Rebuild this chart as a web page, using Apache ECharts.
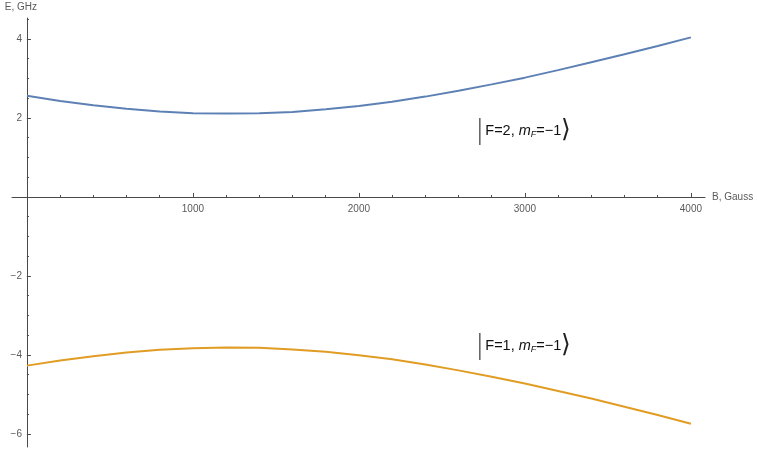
<!DOCTYPE html>
<html>
<head>
<meta charset="utf-8">
<script src="https://cdn.jsdelivr.net/npm/echarts@6/dist/echarts.min.js"></script>
<style>html,body{margin:0;padding:0;background:#fff}#c{width:757px;height:452px}</style>
</head>
<body>
<div id="c"></div>
<script>
// Magnetic field (Gauss)
const fieldB = [0,200,400,600,800,1000,1200,1400,1600,1800,2000,2200,2400,2600,2800,3000,3200,3400,3600,3800,4000];
// Energy of |F=2, mF=-1> (GHz)
const energyF2 = [2.56,2.43,2.32,2.23,2.16,2.12,2.11,2.12,2.15,2.22,2.30,2.41,2.54,2.69,2.85,3.02,3.21,3.41,3.61,3.82,4.04];
// Energy of |F=1, mF=-1> (GHz)
const energyF1 = [-4.27,-4.14,-4.03,-3.94,-3.87,-3.83,-3.81,-3.82,-3.86,-3.92,-4.01,-4.11,-4.24,-4.39,-4.55,-4.72,-4.91,-5.10,-5.31,-5.52,-5.74];
// Tick values
const xMajorTicks = [1000,2000,3000,4000];
const xMinorTicks = [200,400,600,800,1200,1400,1600,1800,2200,2400,2600,2800,3200,3400,3600,3800];
const yMajorTicks = [-6,-4,-2,2,4];
const yMinorTicks = [-6,-5.5,-5,-4.5,-4,-3.5,-3,-2.5,-2,-1.5,-1,-0.5,0.5,1,1.5,2,2.5,3,3.5,4,4.5];
// State labels: [B, E, F, mF]
const stateLabels = [[2990,1.68,'2','−1'],[2990,-3.77,'1','−1']];

const xRange = [-90, 4085];
const yRange = [-6.33, 4.53];
const axisColor = '#4a4a4a';
const labelColor = '#5a5a5a';
const ff = 'Liberation Sans, Arial, sans-serif';
const G = {left:12, right:52, top:18, bottom:5};

function toPairs(xs, ys){ return xs.map((x,i)=>[x, ys[i]]); }
function minus(v){ return String(v).replace('-', '−'); }

const rich = {
  bar:{fontSize:27, color:'#444', fontFamily:'DejaVu Sans', fontWeight:'lighter', padding:[0,1,0,0]},
  n:{fontSize:14.5, color:'#111', fontFamily:ff},
  i:{fontSize:14.5, color:'#111', fontFamily:ff, fontStyle:'italic'},
  s:{fontSize:9, color:'#111', fontFamily:ff, fontStyle:'italic', padding:[8,0,0,0]},
  br:{fontSize:25, color:'#222', fontFamily:'DejaVu Sans', fontWeight:'lighter'}
};

function markFor(idx){
  const L = stateLabels[idx];
  return {
    symbol:'circle', symbolSize:0, silent:true,
    label:{show:true, position:'inside', rich:rich,
      formatter:'{bar||}{n|F=' + L[2] + ', }{i|m}{s|F}{n|=' + L[3] + '}{br|⟩}'},
    data:[{coord:[L[0], L[1]]}]
  };
}

function buildOption(xOff, yOff){
  return {
    animation:false,
    grid:{left:G.left, right:G.right, top:G.top, bottom:G.bottom, containLabel:false, outerBoundsMode:'none'},
    xAxis:[
      {type:'value', min:xRange[0], max:xRange[1], position:'bottom', offset:xOff,
       name:'B, Gauss', nameLocation:'end', nameGap:7,
       nameTextStyle:{color:labelColor, fontSize:10, fontFamily:ff, verticalAlign:'middle', align:'left', padding:[3,0,0,0]},
       axisLine:{show:true, onZero:false, lineStyle:{color:axisColor, width:1}},
       axisTick:{show:true, inside:true, length:4, customValues:xMajorTicks, lineStyle:{color:axisColor}},
       axisLabel:{show:true, customValues:xMajorTicks, color:labelColor, fontSize:10, fontFamily:ff, margin:7,
         formatter:(v)=>String(v)},
       splitLine:{show:false}},
      {type:'value', min:xRange[0], max:xRange[1], position:'bottom', offset:xOff,
       axisLine:{show:false, onZero:false},
       axisTick:{show:true, inside:true, length:2, customValues:xMinorTicks, lineStyle:{color:axisColor}},
       axisLabel:{show:false}, splitLine:{show:false}}
    ],
    yAxis:[
      {type:'value', min:yRange[0], max:yRange[1], position:'left', offset:yOff,
       name:'E, GHz', nameLocation:'end', nameGap:6,
       nameTextStyle:{color:labelColor, fontSize:10, fontFamily:ff, align:'center', padding:[0,12,0,0]},
       axisLine:{show:true, onZero:false, lineStyle:{color:axisColor, width:1}},
       axisTick:{show:true, inside:true, length:4, customValues:yMajorTicks, lineStyle:{color:axisColor}},
       axisLabel:{show:true, customValues:yMajorTicks, color:labelColor, fontSize:10, fontFamily:ff, margin:5,
         formatter:(v)=>minus(v)},
       splitLine:{show:false}},
      {type:'value', min:yRange[0], max:yRange[1], position:'left', offset:yOff,
       axisLine:{show:false, onZero:false},
       axisTick:{show:true, inside:true, length:2, customValues:yMinorTicks, lineStyle:{color:axisColor}},
       axisLabel:{show:false}, splitLine:{show:false}}
    ],
    series:[
      {type:'line', xAxisIndex:0, yAxisIndex:0, data:toPairs(fieldB, energyF2), smooth:false, showSymbol:false,
       lineStyle:{color:'#5e81b5', width:2}, itemStyle:{color:'#5e81b5'}, markPoint:markFor(0)},
      {type:'line', xAxisIndex:0, yAxisIndex:0, data:toPairs(fieldB, energyF1), smooth:false, showSymbol:false,
       lineStyle:{color:'#e19c24', width:2}, itemStyle:{color:'#e19c24'}, markPoint:markFor(1)}
    ]
  };
}

const chart = echarts.init(document.getElementById('c'), null, {renderer:'canvas'});
chart.setOption(buildOption(0, 0));
// Move the axes onto the origin using the library's own coordinate conversion
const origin = chart.convertToPixel({gridIndex:0}, [0, 0]);
const H = chart.getHeight();
const xOff = -((H - G.bottom) - origin[1]);
const yOff = -(origin[0] - G.left);
chart.setOption(buildOption(xOff, yOff));
</script>
</body>
</html>
